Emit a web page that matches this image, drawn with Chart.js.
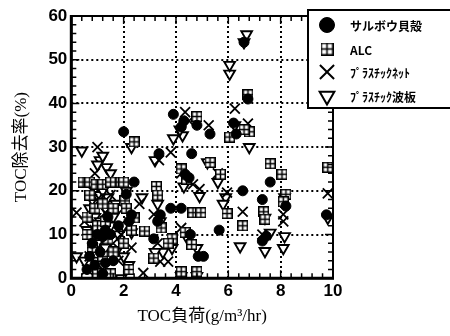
<!DOCTYPE html>
<html>
<head>
<meta charset="utf-8">
<script src="https://cdn.jsdelivr.net/npm/chart.js@4/dist/chart.umd.min.js"></script>
<style>
  html, body { margin: 0; padding: 0; background: #fff; }
  #wrap { width: 450px; height: 336px; }
</style>
</head>
<body>
<div id="wrap"><canvas id="c" width="450" height="336"></canvas></div>
<script>
const seriesNames = ['サルボウ貝殻', 'ALC', 'ﾌﾟﾗｽﾁｯｸﾈｯﾄ', 'ﾌﾟﾗｽﾁｯｸ波板'];
const xTicks = [0, 2, 4, 6, 8, 10];
const yTicks = [0, 10, 20, 30, 40, 50, 60];

// サルボウ貝殻
const shellX = [2.0, 2.4, 3.35, 3.9, 4.2, 4.3, 4.8, 5.3, 4.6, 4.35, 4.5, 3.4, 3.8, 4.2, 3.15, 4.55, 4.85, 5.05, 5.65, 6.3, 6.2, 6.75, 6.6, 6.55, 7.3, 7.6, 7.45, 7.3, 8.2, 9.75, 2.1, 2.3, 1.0, 1.2, 1.3, 1.5, 0.7, 0.9, 1.3, 1.6, 0.8, 1.8, 1.1, 2.2, 1.4, 0.6, 1.2, 3.3];
const shellY = [33.5, 22, 28.5, 37.5, 34.6, 36, 35, 33, 28.5, 23.8, 23, 14.5, 16, 16, 9, 10, 5, 5, 11, 33, 35.5, 41, 54, 20, 18, 22, 9.6, 8.5, 16.5, 14.5, 19.2, 14.5, 10, 9.5, 11, 10, 5, 3, 3.5, 4, 8, 12, 6, 13, 14, 2, 1, 13];

// ALC
const alcX = [0.45, 0.7, 0.95, 1.2, 1.5, 1.9, 2.0, 2.4, 0.6, 0.9, 1.2, 0.7, 1.0, 1.3, 1.6, 2.05, 2.1, 2.4, 2.3, 2.8, 0.8, 1.2, 1.6, 2.0, 1.0, 1.5, 2.2, 0.6, 1.4, 3.25, 3.3, 3.43, 3.15, 3.85, 4.2, 4.4, 4.65, 4.95, 4.6, 4.2, 4.8, 4.8, 5.3, 5.7, 5.95, 6.05, 6.75, 6.8, 6.55, 7.6, 8.05, 8.2, 8.1, 7.35, 7.4, 9.8, 6.6, 4.35, 3.7];
const alcY = [22, 22, 21.5, 21.5, 22, 22, 22, 31.2, 14, 16, 17, 19, 12, 13, 16, 17.7, 16, 13.8, 11, 10.8, 7, 5, 6, 8, 1, 1, 2, 10, 9, 21, 19, 11.5, 4.6, 9, 25, 22.7, 15, 15, 7.7, 1.5, 1.5, 37, 26.5, 23.8, 14.8, 32.3, 42, 33.5, 12, 26.2, 23.8, 19.2, 17.5, 15.2, 13.5, 25.4, 34, 10.5, 8];

// プラスチックネット
const netX = [0.2, 1.0, 0.9, 0.8, 1.1, 1.5, 0.5, 0.9, 1.3, 0.7, 1.0, 1.2, 1.6, 1.9, 2.3, 0.6, 1.8, 2.6, 2.75, 3.15, 3.35, 3.8, 3.4, 3.7, 4.2, 4.2, 4.35, 4.65, 4.9, 5.25, 5.6, 5.95, 6.25, 6.75, 6.55, 7.3, 8.1, 8.1, 9.8, 4.5, 3.3, 2.0];
const netY = [15, 30, 24, 20, 18, 19, 13, 11, 15, 5, 0, 2, 8, 10, 7, 2, 4, 17, 1.2, 14.6, 27, 28.8, 3.8, 3.8, 11.5, 24, 38, 21.5, 20.4, 35, 24, 19.6, 38.8, 35.4, 15.2, 10, 14.6, 13, 19.4, 36, 8, 16];

// プラスチック波板
const waveX = [0.4, 1.1, 1.2, 1.35, 1.0, 1.5, 2.3, 0.8, 1.0, 1.2, 1.4, 1.7, 0.7, 1.3, 1.6, 0.9, 1.1, 1.5, 1.8, 0.6, 0.8, 1.0, 1.3, 1.7, 2.0, 2.2, 0.9, 1.1, 1.4, 1.9, 0.2, 0.5, 2.0, 2.3, 2.1, 2.7, 3.2, 3.9, 4.25, 4.15, 3.3, 3.4, 3.85, 3.5, 4.8, 4.4, 4.3, 4.9, 5.2, 5.6, 5.9, 5.8, 6.05, 6.05, 6.7, 6.6, 6.25, 6.8, 6.45, 7.4, 7.6, 7.4, 8.15, 8.1, 8.15, 9.8, 3.2, 4.2, 4.8];
const waveY = [29.2, 27, 28, 25.4, 26, 24, 30, 18, 19, 20, 18.5, 17, 16, 16, 14, 14, 13, 12, 10, 11, 9, 8, 7, 6, 5, 3, 4, 0, 1, 0, 5, 4, 12, 10.5, 20, 18.5, 27, 32, 32.7, 34, 17, 13, 6.9, 6, 6.9, 9.5, 21, 18.8, 26.5, 22, 18.5, 17, 46.8, 48.8, 55.8, 54, 35, 30, 7.3, 6.2, 10.4, 13.8, 9.6, 6.9, 18.5, 13.8, 6, 0.5, 0.5];

function toPoints(xs, ys) {
  return xs.map((x, i) => ({ x: x, y: ys[i] }));
}

// 田 marker for ALC
function gridMarker(size) {
  const cv = document.createElement('canvas');
  cv.width = size; cv.height = size;
  const g = cv.getContext('2d');
  g.fillStyle = '#fff';
  g.fillRect(0, 0, size, size);
  g.strokeStyle = '#000';
  g.lineWidth = 1.5;
  g.strokeRect(0.75, 0.75, size - 1.5, size - 1.5);
  g.beginPath();
  g.moveTo(size / 2, 0); g.lineTo(size / 2, size);
  g.moveTo(0, size / 2); g.lineTo(size, size / 2);
  g.stroke();
  return cv;
}
const alcMark = gridMarker(11);
const alcMarkBig = gridMarker(13);

const frameAndTicks = {
  id: 'frameAndTicks',
  beforeDatasetsDraw(chart) {
    // dotted grid
    const { ctx, chartArea: a, scales } = chart;
    ctx.save();
    ctx.strokeStyle = '#000';
    ctx.lineWidth = 2;
    ctx.setLineDash([2, 3]);
    xTicks.slice(1, -1).forEach(v => {
      const px = Math.round(scales.x.getPixelForValue(v));
      ctx.beginPath();
      ctx.moveTo(px, a.top); ctx.lineTo(px, a.bottom);
      ctx.stroke();
    });
    yTicks.slice(1, -1).forEach(v => {
      const py = Math.round(scales.y.getPixelForValue(v));
      ctx.beginPath();
      ctx.moveTo(a.left, py); ctx.lineTo(a.right, py);
      ctx.stroke();
    });
    ctx.restore();
  },
  afterDatasetsDraw(chart) {
    const { ctx, chartArea: a, scales } = chart;
    const xs = scales.x, ys = scales.y;
    ctx.save();
    ctx.strokeStyle = '#000';
    ctx.lineWidth = 1.5;
    ctx.beginPath();
    for (let v = 0; v <= 10.001; v += 0.4) {
      const px = xs.getPixelForValue(v);
      const major = Math.abs(v / 2 - Math.round(v / 2)) < 0.01;
      const len = major ? 8 : 5;
      ctx.moveTo(px, a.bottom); ctx.lineTo(px, a.bottom - len);
      ctx.moveTo(px, a.top); ctx.lineTo(px, a.top + len);
    }
    for (let v = 0; v <= 60; v += 2) {
      const py = ys.getPixelForValue(v);
      const len = v % 10 === 0 ? 8 : 5;
      ctx.moveTo(a.left, py); ctx.lineTo(a.left + len, py);
      ctx.moveTo(a.right, py); ctx.lineTo(a.right - len, py);
    }
    ctx.stroke();
    ctx.lineWidth = 2;
    ctx.strokeRect(a.left, a.top, a.right - a.left, a.bottom - a.top);
    ctx.lineWidth = 3;
    ctx.beginPath();
    ctx.moveTo(a.left, a.top - 1); ctx.lineTo(a.left, a.bottom); ctx.lineTo(a.right + 1, a.bottom);
    ctx.stroke();
    ctx.restore();
  },
  afterDraw(chart) {
    const ctx = chart.ctx;
    const bx = 308, by = 10, bw = 150, bh = 98;
    ctx.save();
    ctx.fillStyle = '#fff';
    ctx.fillRect(bx, by, bw, bh);
    ctx.strokeStyle = '#000';
    ctx.lineWidth = 2;
    ctx.strokeRect(bx, by, bw, bh);
    const rows = [25, 49, 72, 96];
    const styles = [
      { pointStyle: 'circle', radius: 7.5, borderWidth: 1 },
      { pointStyle: alcMarkBig, radius: 7, borderWidth: 1 },
      { pointStyle: 'crossRot', radius: 10, borderWidth: 2 },
      { pointStyle: 'triangle', radius: 8.5, rotation: 180, borderWidth: 2 }
    ];
    chart.data.datasets.forEach((ds, i) => {
      ctx.fillStyle = ds.pointBackgroundColor;
      ctx.strokeStyle = '#000';
      ctx.lineWidth = styles[i].borderWidth;
      Chart.helpers.drawPoint(ctx, styles[i], 327, rows[i]);
      ctx.fillStyle = '#000';
      ctx.font = 'bold 12px "Noto Sans CJK JP"';
      ctx.textBaseline = 'middle';
      ctx.fillText(seriesNames[i], 350, rows[i] + 1);
    });
    ctx.restore();
  }
};

const tickFont = { family: '"Liberation Sans", Arial, sans-serif', size: 17, weight: 'bold' };
const titleFont = { family: '"Liberation Serif", "Noto Sans CJK JP", serif', size: 17 };

new Chart(document.getElementById('c'), {
  type: 'scatter',
  data: {
    datasets: [
      {
        label: seriesNames[0], data: toPoints(shellX, shellY),
        pointStyle: 'circle', pointRadius: 5, pointBackgroundColor: '#000', pointBorderColor: '#000', pointBorderWidth: 1
      },
      {
        label: seriesNames[1], data: toPoints(alcX, alcY),
        pointStyle: alcMark, pointRadius: 5.5, pointBackgroundColor: '#fff', pointBorderColor: '#000', pointBorderWidth: 1
      },
      {
        label: seriesNames[2], data: toPoints(netX, netY),
        pointStyle: 'crossRot', pointRadius: 7, pointBackgroundColor: '#fff', pointBorderColor: '#000', pointBorderWidth: 1.8
      },
      {
        label: seriesNames[3], data: toPoints(waveX, waveY),
        pointStyle: 'triangle', pointRotation: 180, pointRadius: 6.2, pointBackgroundColor: '#fff', pointBorderColor: '#000', pointBorderWidth: 1.9
      }
    ]
  },
  options: {
    responsive: false,
    animation: false,
    events: [],
    layout: { padding: { left: 11, right: 117, top: 16, bottom: 9 } },
    plugins: { legend: { display: false }, tooltip: { enabled: false } },
    scales: {
      x: {
        type: 'linear', min: 0, max: 10,
        afterBuildTicks: s => { s.ticks = xTicks.map(v => ({ value: v })); },
        ticks: { color: '#000', font: tickFont, padding: 3, maxRotation: 0 },
        grid: { display: false, drawTicks: false },
        border: { display: false },
        title: { display: true, text: 'TOC負荷(g/m³/hr)', color: '#000', font: titleFont, padding: { top: 2, bottom: 0 } }
      },
      y: {
        type: 'linear', min: 0, max: 60,
        afterBuildTicks: s => { s.ticks = yTicks.map(v => ({ value: v })); },
        ticks: { color: '#000', font: tickFont, padding: 4 },
        grid: { display: false, drawTicks: false },
        border: { display: false },
        title: { display: true, text: 'TOC除去率(%)', color: '#000', font: titleFont, padding: { top: 0, bottom: 13 } }
      }
    }
  },
  plugins: [frameAndTicks]
});
</script>
</body>
</html>
